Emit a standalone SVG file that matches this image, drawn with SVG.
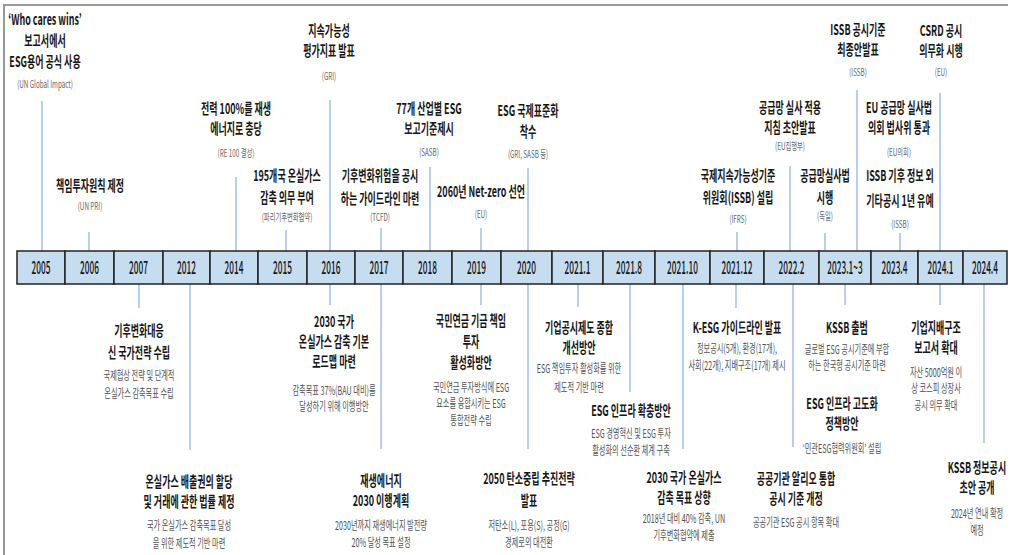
<svg xmlns="http://www.w3.org/2000/svg" width="1010" height="555" viewBox="0 0 1010 555">
<style>
text{font-family:"Noto Sans CJK KR","Noto Sans",sans-serif;text-anchor:middle}
.t{font-size:15px;font-weight:700;fill:#151515}
.s{font-size:12px;fill:#505050}
.c{font-size:10.5px;fill:#666}
.y{font-size:18px;font-weight:500;fill:#151515}
.cell{fill:#c6dcef;stroke:#222;stroke-width:1.5}
.ln{stroke:#a8c3e8;stroke-width:1.6;fill:none}
</style>
<rect width="1010" height="555" fill="#fff"/>
<path d="M4 555V5H1008" fill="none" stroke="#999" stroke-width="2"/>
<g id="connectors">
<path class="ln" d="M42 101V251M89 232V251M236 177V251M286 230V251M330 100V251M381 228V251M430 167V251M481 228V251M528 168V251M737 232V251M790 166V251M825 233V251M857 90V251M900 233V251M940 93V251"/>
<path class="ln" d="M139 284V308M190 284V450M330 284V305M381 284V449M481 284V305M528 284V449M578 284V307M630 284V392M683 284V449M736 284V308M793 284V447M845 284V305M940 284V305M984 284V443"/>
</g>
<g id="timeline">
<rect class="cell" x="17" y="251" width="48" height="33"/>
<rect class="cell" x="65" y="251" width="49" height="33"/>
<rect class="cell" x="114" y="251" width="49" height="33"/>
<rect class="cell" x="163" y="251" width="47" height="33"/>
<rect class="cell" x="210" y="251" width="48" height="33"/>
<rect class="cell" x="258" y="251" width="49" height="33"/>
<rect class="cell" x="307" y="251" width="48" height="33"/>
<rect class="cell" x="355" y="251" width="48" height="33"/>
<rect class="cell" x="403" y="251" width="49" height="33"/>
<rect class="cell" x="452" y="251" width="49" height="33"/>
<rect class="cell" x="501" y="251" width="51" height="33"/>
<rect class="cell" x="552" y="251" width="51" height="33"/>
<rect class="cell" x="603" y="251" width="52" height="33"/>
<rect class="cell" x="655" y="251" width="55" height="33"/>
<rect class="cell" x="710" y="251" width="54" height="33"/>
<rect class="cell" x="764" y="251" width="55" height="33"/>
<rect class="cell" x="819" y="251" width="52" height="33"/>
<rect class="cell" x="871" y="251" width="47" height="33"/>
<rect class="cell" x="918" y="251" width="45" height="33"/>
<rect class="cell" x="963" y="251" width="44" height="33"/>
<g transform="translate(41 274) scale(0.46 1)"><text class="y">2005</text></g>
<g transform="translate(89.5 274) scale(0.46 1)"><text class="y">2006</text></g>
<g transform="translate(138.5 274) scale(0.46 1)"><text class="y">2007</text></g>
<g transform="translate(186.5 274) scale(0.46 1)"><text class="y">2012</text></g>
<g transform="translate(234 274) scale(0.46 1)"><text class="y">2014</text></g>
<g transform="translate(282.5 274) scale(0.46 1)"><text class="y">2015</text></g>
<g transform="translate(331 274) scale(0.46 1)"><text class="y">2016</text></g>
<g transform="translate(379 274) scale(0.46 1)"><text class="y">2017</text></g>
<g transform="translate(427.5 274) scale(0.46 1)"><text class="y">2018</text></g>
<g transform="translate(476.5 274) scale(0.46 1)"><text class="y">2019</text></g>
<g transform="translate(526.5 274) scale(0.46 1)"><text class="y">2020</text></g>
<g transform="translate(577.5 274) scale(0.46 1)"><text class="y">2021.1</text></g>
<g transform="translate(629 274) scale(0.46 1)"><text class="y">2021.8</text></g>
<g transform="translate(682.5 274) scale(0.46 1)"><text class="y">2021.10</text></g>
<g transform="translate(737 274) scale(0.46 1)"><text class="y">2021.12</text></g>
<g transform="translate(791.5 274) scale(0.46 1)"><text class="y">2022.2</text></g>
<g transform="translate(845 274) scale(0.46 1)"><text class="y">2023.1~3</text></g>
<g transform="translate(894.5 274) scale(0.46 1)"><text class="y">2023.4</text></g>
<g transform="translate(940.5 274) scale(0.46 1)"><text class="y">2024.1</text></g>
<g transform="translate(985 274) scale(0.46 1)"><text class="y">2024.4</text></g>
</g>
<!-- top nodes -->
<g id="n-2005" transform="translate(45 0) scale(0.6 1)">
<text class="t" y="25">‘Who cares wins’</text><text class="t" y="46">보고서에서</text><text class="t" y="67">ESG용어 공식 사용</text><text class="c" y="88">(UN Global Impact)</text>
</g>
<g id="n-2006" transform="translate(90 0) scale(0.6 1)">
<text class="t" y="191">책임투자원칙 제정</text><text class="c" y="210">(UN PRI)</text>
</g>
<g id="n-2014" transform="translate(236 0) scale(0.6 1)">
<text class="t" y="114">전력 100%를 재생</text><text class="t" y="134">에너지로 충당</text><text class="c" y="157">(RE 100 결성)</text>
</g>
<g id="n-2015" transform="translate(287 0) scale(0.6 1)">
<text class="t" y="181">195개국 온실가스</text><text class="t" y="203">감축 의무 부여</text><text class="c" y="221">(파리기후변화협약)</text>
</g>
<g id="n-2016t" transform="translate(329 0) scale(0.6 1)">
<text class="t" y="36">지속가능성</text><text class="t" y="56">평가지표 발표</text><text class="c" y="80">(GRI)</text>
</g>
<g id="n-2017t" transform="translate(380 0) scale(0.6 1)">
<text class="t" y="181">기후변화위험을 공시</text><text class="t" y="204">하는 가이드라인 마련</text><text class="c" y="221">(TCFD)</text>
</g>
<g id="n-2018" transform="translate(429 0) scale(0.6 1)">
<text class="t" y="114">77개 산업별 ESG</text><text class="t" y="134">보고기준제시</text><text class="c" y="156">(SASB)</text>
</g>
<g id="n-2019t" transform="translate(481 0) scale(0.6 1)">
<text class="t" y="197">2060년 Net-zero 선언</text><text class="c" y="218">(EU)</text>
</g>
<g id="n-2020t" transform="translate(528 0) scale(0.6 1)">
<text class="t" y="116">ESG 국제표준화</text><text class="t" y="137">착수</text><text class="c" y="158">(GRI, SASB 등)</text>
</g>
<g id="n-2021-12t" transform="translate(738 0) scale(0.6 1)">
<text class="t" y="181">국제지속가능성기준</text><text class="t" y="203">위원회(ISSB) 설립</text><text class="c" y="223">(IFRS)</text>
</g>
<g id="n-2022-2t" transform="translate(790 0) scale(0.6 1)">
<text class="t" y="113">공급망 실사 적용</text><text class="t" y="133">지침 초안발표</text><text class="c" y="150">(EU집행부)</text>
</g>
<g id="n-2023-1t" transform="translate(825 0) scale(0.6 1)">
<text class="t" y="181">공급망실사법</text><text class="t" y="203">시행</text><text class="c" y="220">(독일)</text>
</g>
<g id="n-2023-1issb" transform="translate(858 0) scale(0.6 1)">
<text class="t" y="35">ISSB 공시기준</text><text class="t" y="55">최종안발표</text><text class="c" y="76">(ISSB)</text>
</g>
<g id="n-eu-parl" transform="translate(899 0) scale(0.6 1)">
<text class="t" y="113">EU 공급망 실사법</text><text class="t" y="133">의회 법사위 통과</text><text class="c" y="156">(EU의회)</text>
</g>
<g id="n-2023-4" transform="translate(900 0) scale(0.6 1)">
<text class="t" y="181">ISSB 기후 정보 외</text><text class="t" y="206">기타공시 1년 유예</text><text class="c" y="228">(ISSB)</text>
</g>
<g id="n-2024-1t" transform="translate(941 0) scale(0.6 1)">
<text class="t" y="36">CSRD 공시</text><text class="t" y="56">의무화 시행</text><text class="c" y="76">(EU)</text>
</g>
<!-- bottom nodes -->
<g id="n-2007" transform="translate(139 0) scale(0.6 1)">
<text class="t" y="336">기후변화대응</text><text class="t" y="358">신 국가전략 수립</text><text class="s" y="380">국제협상 전략 및 단계적</text><text class="s" y="398">온실가스 감축목표 수립</text>
</g>
<g id="n-2012" transform="translate(189 0) scale(0.6 1)">
<text class="t" y="487">온실가스 배출권의 할당</text><text class="t" y="507">및 거래에 관한 법률 제정</text><text class="s" y="530">국가 온실가스 감축목표 달성</text><text class="s" y="548">을 위한 제도적 기반 마련</text>
</g>
<g id="n-2016b" transform="translate(334 0) scale(0.6 1)">
<text class="t" y="327">2030 국가</text><text class="t" y="347">온실가스 감축 기본</text><text class="t" y="367">로드맵 마련</text><text class="s" y="395">감축목표 37%(BAU 대비)를</text><text class="s" y="411">달성하기 위해 이행방안</text>
</g>
<g id="n-2017b" transform="translate(381 0) scale(0.6 1)">
<text class="t" y="486">재생에너지</text><text class="t" y="506">2030 이행계획</text><text class="s" y="530">2030년까지 재생에너지 발전량</text><text class="s" y="547">20% 달성 목표 설정</text>
</g>
<g id="n-2019b" transform="translate(471 0) scale(0.6 1)">
<text class="t" y="326">국민연금 기금 책임</text><text class="t" y="347">투자</text><text class="t" y="368">활성화방안</text><text class="s" y="392">국민연금 투자방식에 ESG</text><text class="s" y="408">요소를 융합시키는 ESG</text><text class="s" y="425">통합전략 수립</text>
</g>
<g id="n-2020b" transform="translate(529 0) scale(0.6 1)">
<text class="t" y="484">2050 탄소중립 추진전략</text><text class="t" y="506">발표</text><text class="s" y="530">저탄소(L), 포용(S), 공정(G)</text><text class="s" y="547">경제로의 대전환</text>
</g>
<g id="n-2021-1" transform="translate(579 0) scale(0.6 1)">
<text class="t" y="333">기업공시제도 종합</text><text class="t" y="353">개선방안</text><text class="s" y="373">ESG 책임투자 활성화를 위한</text><text class="s" y="392">제도적 기반 마련</text>
</g>
<g id="n-2021-8" transform="translate(631 0) scale(0.6 1)">
<text class="t" y="416">ESG 인프라 확충방안</text><text class="s" y="438">ESG 경영혁신 및 ESG 투자</text><text class="s" y="455">활성화의 선순환 체계 구축</text>
</g>
<g id="n-2021-10" transform="translate(684 0) scale(0.6 1)">
<text class="t" y="483">2030 국가 온실가스</text><text class="t" y="503">감축 목표 상향</text><text class="s" y="523">2018년 대비 40% 감축, UN</text><text class="s" y="540">기후변화협약에 제출</text>
</g>
<g id="n-2021-12b" transform="translate(737 0) scale(0.6 1)">
<text class="t" y="333">K-ESG 가이드라인 발표</text><text class="s" y="353">정보공시(5개), 환경(17개),</text><text class="s" y="370">사회(22개), 지배구조(17개) 제시</text>
</g>
<g id="n-2022-2b" transform="translate(796 0) scale(0.6 1)">
<text class="t" y="484">공공기관 알리오 통합</text><text class="t" y="504">공시 기준 개정</text><text class="s" y="527">공공기관 ESG 공시 항목 확대</text>
</g>
<g id="n-2023-1b" transform="translate(847 0) scale(0.6 1)">
<text class="t" y="333">KSSB 출범</text><text class="s" y="354">글로벌 ESG 공시기준에 부합</text><text class="s" y="370">하는 한국형 공시기준 마련</text>
</g>
<g id="n-esg-infra" transform="translate(842 0) scale(0.6 1)">
<text class="t" y="409">ESG 인프라 고도화</text><text class="t" y="429">정책방안</text><text class="s" y="453">‘민관ESG협력위원회’ 설립</text>
</g>
<g id="n-2024-1b" transform="translate(936 0) scale(0.6 1)">
<text class="t" y="333">기업지배구조</text><text class="t" y="353">보고서 확대</text><text class="s" y="377">자산 5000억원 이</text><text class="s" y="393">상 코스피 상장사</text><text class="s" y="410">공시 의무 확대</text>
</g>
<g id="n-2024-4" transform="translate(977 0) scale(0.6 1)">
<text class="t" y="473">KSSB 정보공시</text><text class="t" y="493">초안 공개</text><text class="s" y="518">2024년 연내 확정</text><text class="s" y="535">예정</text>
</g>
</svg>
